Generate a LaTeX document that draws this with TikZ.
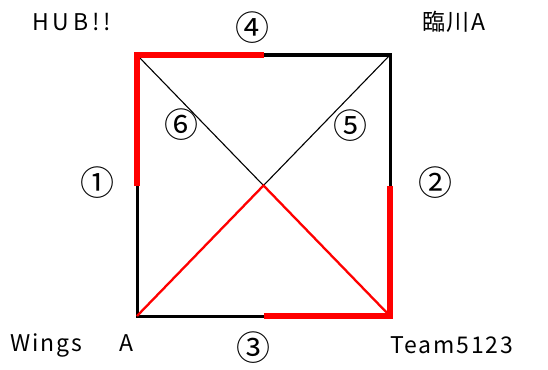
\documentclass[tikz,border=0pt]{standalone}
\usepackage{fontspec}
\setmainfont{Noto Sans CJK JP}
\newfontfamily\lblfont[LetterSpace=8]{Noto Sans CJK JP}
\begin{document}
\begin{tikzpicture}[x=1pt,y=-1pt,
  edge/.style={line width=3pt,black},
  redge/.style={line width=6pt,red,line join=miter,line cap=butt},
  diag/.style={line width=1.1pt,black},
  rdiag/.style={line width=2.3pt,red},
  lbl/.style={inner sep=0pt,font=\lblfont\fontsize{23}{25}\selectfont},
  num/.style={inner sep=0pt,font=\fontsize{34}{36}\selectfont}]
\useasboundingbox (0,0) rectangle (548,369);
\coordinate (tl) at (137,55);
\coordinate (tr) at (390,55);
\coordinate (bl) at (137,316);
\coordinate (br) at (390,316);
\coordinate (c) at (263.5,185.5);
\coordinate (tm) at (264,55);
\coordinate (lm) at (137,185.5);
\coordinate (rm) at (390,185.5);
\coordinate (bm) at (264,316);
\draw[edge] (tl) -- (tr) -- (br) -- (bl) -- cycle;
\draw[diag] (tl) -- (c) -- (tr);
\draw[rdiag] (bl) -- (c) -- (br);
\draw[redge] (tm) -- (tl) -- (lm);
\draw[redge] (rm) -- (br) -- (bm);
\node[lbl] (hub) at (71.5,22) {H\,U\,B\,!\,!};
\node[lbl] (rin) at (454,22) {臨川A};
\node[lbl] (wings) at (72,345) {Wings\hspace{1.6em}A};
\node[lbl] (team) at (452,345) {Team5123};
\node[num] (n4) at (252.5,28) {④};
\node[num] (n3) at (253,348) {③};
\node[num] (n1) at (97,182.5) {①};
\node[num] (n2) at (435,183) {②};
\node[num] (n6) at (181,125) {⑥};
\node[num] (n5) at (350,126) {⑤};
\end{tikzpicture}
\end{document}
